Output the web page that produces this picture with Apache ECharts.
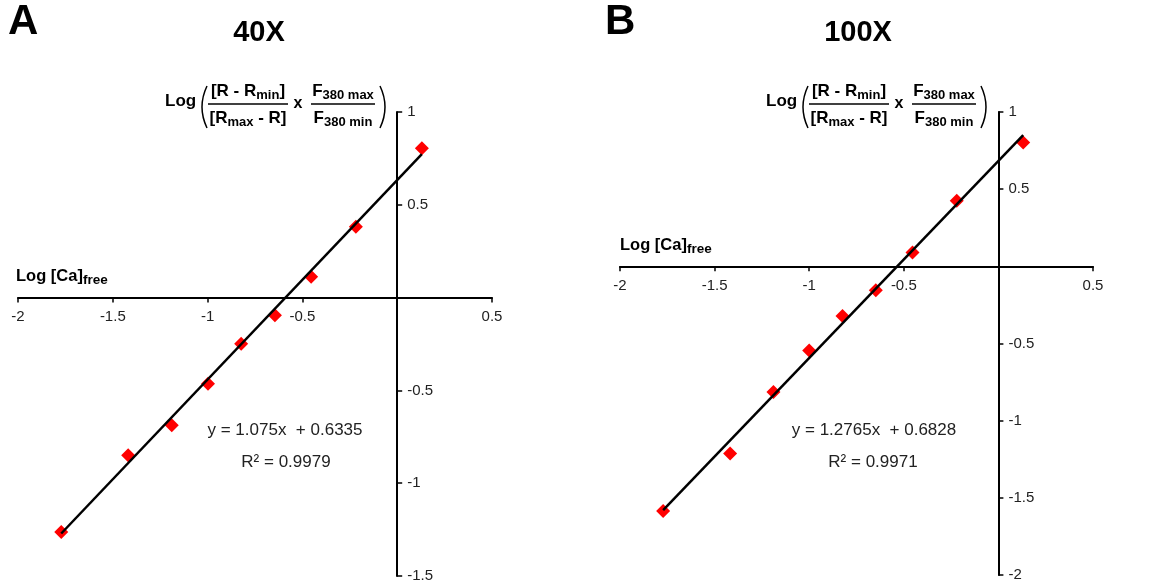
<!DOCTYPE html>
<html>
<head>
<meta charset="utf-8">
<script src="https://cdn.jsdelivr.net/npm/echarts@6/dist/echarts.min.js"></script>
<style>
  html, body { margin: 0; background: #fff; }
  #main { width: 1151px; height: 584px; }
</style>
</head>
<body>
<div id="main"></div>
<script>
// panel A - 40X
var logCaA = [-1.772, -1.419, -1.189, -0.998, -0.823, -0.645, -0.454, -0.218, 0.130];
var ratioA = [-1.263, -0.849, -0.688, -0.464, -0.249, -0.095, 0.113, 0.382, 0.805];
var trendXA = [-1.772, 0.130];
var trendYA = [-1.271, 0.773];
var yRangeA = [-1.5, 1];

// panel B - 100X
var logCaB = [-1.772, -1.418, -1.189, -1.000, -0.824, -0.648, -0.454, -0.220, 0.131];
var ratioB = [-1.585, -1.213, -0.814, -0.546, -0.322, -0.155, 0.089, 0.425, 0.802];
var trendXB = [-1.772, 0.131];
var trendYB = [-1.579, 0.850];
var yRangeB = [-2, 1];

var xRange = [-2, 0.5];
var tickStep = 0.5;

var FONT = 'Liberation Sans';
var ctx = document.createElement('canvas').getContext('2d');

function textW(t, size, bold) {
  ctx.font = (bold ? 'bold ' : '') + size + 'px "' + FONT + '"';
  return ctx.measureText(t).width;
}

function txt(t, x, y, size, bold, align, color) {
  return {
    type: 'text', x: x, y: y, silent: true,
    style: {
      text: t, fontSize: size, fontWeight: bold ? 'bold' : 'normal', fontFamily: FONT,
      fill: color || '#000', align: align || 'left', textAlign: align || 'left',
      verticalAlign: 'middle', textVerticalAlign: 'middle'
    }
  };
}

// pieces: [text, size, dy] laid out left to right (bold)
function run(pieces, x, y, centered) {
  var total = 0;
  pieces.forEach(function (p) { total += textW(p[0], p[1], true); });
  var cx = centered ? x - total / 2 : x;
  var out = [];
  pieces.forEach(function (p) {
    out.push(txt(p[0], cx, y + (p[2] || 0), p[1], true));
    cx += textW(p[0], p[1], true);
  });
  return out;
}

function hline(x1, x2, y) {
  return { type: 'line', silent: true, shape: { x1: x1, y1: y, x2: x2, y2: y },
    style: { stroke: '#000', lineWidth: 1.5 } };
}

function paren(x, cx) {
  return { type: 'bezierCurve', silent: true,
    shape: { x1: x, y1: 86, x2: x, y2: 128, cpx1: cx, cpy1: 107 },
    style: { stroke: '#000', lineWidth: 1.5, fill: null } };
}

function formula(dx) {
  var els = [];
  els.push(txt('Log', 165 + dx, 101, 17, true));
  els.push(paren(207 + dx, 197 + dx));
  els = els.concat(run([['[R - R', 17, 0], ['min', 13, 4], [']', 17, 0]], 248 + dx, 91, true));
  els.push(hline(208 + dx, 288 + dx, 104));
  els = els.concat(run([['[R', 17, 0], ['max', 13, 4], [' - R]', 17, 0]], 248 + dx, 118, true));
  els.push(txt('x', 298 + dx, 104, 16, true, 'center'));
  els = els.concat(run([['F', 17, 0], ['380 max', 13, 4]], 343 + dx, 91, true));
  els.push(hline(311 + dx, 375 + dx, 104));
  els = els.concat(run([['F', 17, 0], ['380 min', 13, 4]], 343 + dx, 118, true));
  els.push(paren(380 + dx, 390 + dx));
  return els;
}

var graphics = [];
graphics.push(txt('A', 8, 22, 42, true));
graphics.push(txt('B', 605, 22, 42, true));
graphics.push(txt('40X', 259, 33, 29, true, 'center'));
graphics.push(txt('100X', 858, 33, 29, true, 'center'));
graphics = graphics.concat(formula(0), formula(601));
graphics = graphics.concat(run([['Log [Ca]', 16.5, 0], ['free', 13.5, 4]], 16, 276, false));
graphics = graphics.concat(run([['Log [Ca]', 16.5, 0], ['free', 13.5, 4]], 620, 245, false));
graphics.push(txt('y = 1.075x  + 0.6335', 285, 430, 17, false, 'center', '#222'));
graphics.push(txt('R² = 0.9979', 286, 462, 17, false, 'center', '#222'));
graphics.push(txt('y = 1.2765x  + 0.6828', 874, 430, 17, false, 'center', '#222'));
graphics.push(txt('R² = 0.9971', 873, 462, 17, false, 'center', '#222'));

var grids = [
  { left: 18, top: 112, width: 474, height: 464, outerBoundsMode: 'none', containLabel: false },
  { left: 620, top: 112, width: 473, height: 463, outerBoundsMode: 'none', containLabel: false }
];

function hideZero(v) { return v === 0 ? '' : String(v); }

// x axis sits on y = 0: shift it up from the grid bottom
function xAx(gi, yRange) {
  var g = grids[gi];
  var off = -(0 - yRange[0]) / (yRange[1] - yRange[0]) * g.height;
  return {
    gridIndex: gi, type: 'value', min: xRange[0], max: xRange[1], interval: tickStep,
    position: 'bottom', offset: off,
    axisLine: { onZero: false, lineStyle: { color: '#000', width: 2 } },
    axisTick: { show: true, length: 5, lineStyle: { color: '#000', width: 1.5 } },
    axisLabel: { color: '#222', fontSize: 15, fontFamily: FONT, margin: 12, formatter: hideZero },
    splitLine: { show: false }
  };
}

// y axis sits on x = 0: shift it left from the grid right edge
function yAx(gi, range) {
  var g = grids[gi];
  var off = -(xRange[1] - 0) / (xRange[1] - xRange[0]) * g.width;
  return {
    gridIndex: gi, type: 'value', min: range[0], max: range[1], interval: tickStep,
    position: 'right', offset: off,
    axisLine: { onZero: false, lineStyle: { color: '#000', width: 2 } },
    axisTick: { show: true, length: 5, lineStyle: { color: '#000', width: 1.5 } },
    axisLabel: { color: '#222', fontSize: 15, fontFamily: FONT, margin: 10, formatter: hideZero },
    splitLine: { show: false }
  };
}

function pairs(xs, ys) {
  return xs.map(function (x, i) { return [x, ys[i]]; });
}

var chart = echarts.init(document.getElementById('main'));
chart.setOption({
  backgroundColor: '#fff',
  animation: false,
  grid: grids,
  xAxis: [xAx(0, yRangeA), xAx(1, yRangeB)],
  yAxis: [yAx(0, yRangeA), yAx(1, yRangeB)],
  graphic: graphics,
  series: [
    { type: 'scatter', xAxisIndex: 0, yAxisIndex: 0, data: pairs(logCaA, ratioA),
      symbol: 'diamond', symbolSize: 14, itemStyle: { color: '#ff0000', opacity: 1 }, z: 2 },
    { type: 'line', xAxisIndex: 0, yAxisIndex: 0, data: pairs(trendXA, trendYA),
      showSymbol: false, lineStyle: { color: '#000', width: 2.5 }, z: 3 },
    { type: 'scatter', xAxisIndex: 1, yAxisIndex: 1, data: pairs(logCaB, ratioB),
      symbol: 'diamond', symbolSize: 14, itemStyle: { color: '#ff0000', opacity: 1 }, z: 2 },
    { type: 'line', xAxisIndex: 1, yAxisIndex: 1, data: pairs(trendXB, trendYB),
      showSymbol: false, lineStyle: { color: '#000', width: 2.5 }, z: 3 }
  ]
});
</script>
</body>
</html>
